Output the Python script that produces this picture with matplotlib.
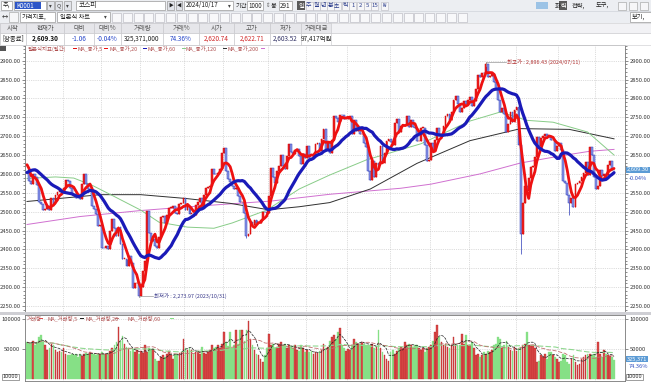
import numpy as np
import pandas as pd
import matplotlib
matplotlib.use("Agg")
import matplotlib.pyplot as plt
from matplotlib.patches import Rectangle
from matplotlib.ticker import MultipleLocator, FuncFormatter

plt.rcParams['font.family'] = ['Noto Sans CJK KR', 'DejaVu Sans']

W, H = 651, 386

# closes before the visible window (Jul 2023 .. 2023/08/03), only used for the MAs
prior_close = [2564, 2593, 2579, 2556, 2526, 2519, 2574, 2583, 2629, 2619,
               2619, 2608, 2600, 2609, 2628, 2636, 2592, 2603, 2608, 2632,
               2667, 2616, 2605]

# daily closes, 2023/08/04 .. 2024/10/17
close = [
    # 2023-08
    2602, 2580, 2573, 2601, 2591, 2570, 2525, 2519, 2504, 2508, 2516, 2505, 2537, 2519, 2543, 2552, 2561, 2556,
    # 2023-09
    2563, 2584, 2582, 2563, 2548, 2547, 2537, 2535, 2534, 2573, 2601, 2574, 2559, 2559, 2514, 2508, 2495, 2462, 2465,
    # 2023-10
    2405, 2403, 2408, 2402, 2450, 2480, 2456, 2436, 2460, 2415, 2375, 2375, 2357, 2383, 2363, 2299, 2310, 2310, 2277,
    # 2023-11
    2301, 2343, 2368, 2502, 2443, 2421, 2427, 2409, 2403, 2433, 2487, 2488, 2469, 2491, 2511, 2511, 2514, 2496, 2495, 2521, 2522, 2535,
    # 2023-12
    2505, 2514, 2495, 2495, 2492, 2517, 2525, 2535, 2510, 2544, 2563, 2566, 2568, 2614, 2600, 2599, 2602, 2613, 2655,
    # 2024-01
    2669, 2607, 2587, 2578, 2567, 2561, 2562, 2541, 2525, 2525, 2497, 2435, 2440, 2473, 2464, 2478, 2469, 2470, 2478, 2500, 2498, 2497,
    # 2024-02
    2542, 2615, 2591, 2576, 2609, 2620, 2649, 2620, 2613, 2648, 2680, 2657, 2653, 2664, 2667, 2647, 2625, 2653, 2642,
    # 2024-03
    2674, 2642, 2641, 2647, 2680, 2681, 2660, 2693, 2718, 2666, 2685, 2656, 2690, 2754, 2748, 2738, 2757, 2755, 2745, 2746,
    # 2024-04
    2747, 2753, 2706, 2742, 2714, 2717, 2705, 2706, 2681, 2670, 2609, 2584, 2634, 2591, 2629, 2623, 2675, 2628, 2656, 2687, 2692,
    # 2024-05
    2684, 2676, 2734, 2745, 2712, 2727, 2727, 2730, 2753, 2724, 2742, 2724, 2721, 2687, 2687, 2722, 2722, 2677, 2635, 2636,
    # 2024-06
    2682, 2662, 2689, 2722, 2701, 2705, 2728, 2754, 2758, 2744, 2763, 2797, 2807, 2784, 2765, 2774, 2792, 2784, 2797,
    # 2024-07
    2804, 2780, 2794, 2824, 2862, 2857, 2868, 2867, 2891, 2857, 2860, 2866, 2843, 2824, 2795, 2763, 2775, 2758, 2710, 2731, 2765, 2738, 2770,
    # 2024-08
    2777, 2676, 2441, 2522, 2568, 2556, 2588, 2618, 2621, 2644, 2697, 2674, 2696, 2701, 2707, 2701, 2698, 2689, 2689, 2662, 2674,
    # 2024-09
    2681, 2664, 2580, 2576, 2544, 2523, 2535, 2513, 2572, 2575, 2580, 2593, 2602, 2631, 2596, 2671, 2649, 2593,
    # 2024-10
    2561, 2569, 2610, 2594, 2599, 2597, 2623, 2633, 2610, 2609.30,
]
month_bars = [18, 19, 19, 22, 19, 22, 19, 20, 21, 20, 19, 23, 21, 18, 10]

# intraday extremes that stick out of the bodies
wick_idx = [55, 59, 108, 226, 243, 267]
wick_price = [2273.97, 2503, 2429, 2896.43, 2386.96, 2492]

# long moving averages (bar index, value)
ma60_idx = [0, 14, 23, 32, 43, 56, 65, 79, 92, 101, 118, 134, 149, 167, 194, 218, 233, 246, 259, 276, 289]
ma60_val = [2588, 2592, 2589, 2570, 2540, 2504, 2472, 2459, 2456, 2470, 2504, 2560, 2597, 2637, 2680, 2740, 2764, 2742, 2737, 2711, 2650]
ma120_idx = [0, 16, 36, 56, 78, 100, 119, 134, 149, 169, 192, 218, 243, 267, 289]
ma120_val = [2527, 2535, 2545, 2545, 2535, 2522, 2505, 2513, 2524, 2560, 2628, 2688, 2720, 2718, 2693]
ma200_idx = [0, 26, 56, 85, 120, 149, 184, 199, 223, 243, 263, 277, 289]
ma200_val = [2466, 2487, 2503, 2515, 2528, 2546, 2562, 2573, 2600, 2629, 2648, 2660, 2665]

# volume (axis units / 1000)
volume_k = [
    61, 59, 60, 64, 56, 61, 70, 73, 61, 56, 48, 51, 59, 56, 48, 45, 46, 45, 51, 42,
    40, 40, 42, 40, 41, 37, 42, 38, 41, 44, 42, 45, 42, 42, 40, 42, 41, 45, 42, 41,
    44, 46, 51, 56, 62, 86, 64, 72, 59, 53, 51, 46, 50, 45, 48, 41, 46, 44, 56, 45,
    51, 48, 50, 34, 31, 30, 37, 40, 37, 42, 46, 40, 34, 42, 41, 44,
    45, 67, 51, 48, 51, 48, 42, 45, 46, 42, 53, 44, 42, 45, 48, 56, 51, 53, 56, 51,
    59, 78, 62, 55, 78, 51, 56, 81, 59, 81, 81, 64, 81, 97, 67, 56, 48, 42, 40, 34,
    29, 40, 51, 75, 56, 59, 51, 53, 59, 62, 56, 59, 51, 56, 53, 51, 56, 48, 46, 56,
    51, 45, 48, 45, 46, 42, 45, 44, 46, 48, 59, 51, 53, 64, 70, 73, 66,
    78, 84, 56, 51, 46, 50, 48, 56, 67, 62, 59, 59, 62, 59, 56, 56, 56, 59, 51, 53,
    81, 51, 45, 40, 34, 31, 45, 48, 42, 46, 51, 53, 51, 62, 56, 59, 56, 53, 56, 57,
    51, 48, 51, 45, 51, 53, 56, 64, 78, 89, 70, 62, 56, 59, 53, 51, 56, 70, 59, 56,
    56, 75, 59, 73, 56, 56, 62, 51, 40, 42, 37, 40, 45, 42, 46, 45,
    48, 56, 59, 70, 67, 51, 56, 64, 53, 48, 46, 53, 46, 51, 53, 56, 59, 78, 56, 57,
    56, 51, 29, 31, 40, 37, 42, 34, 45, 45, 40, 37, 34, 29, 31, 42, 40, 29, 26, 34,
    40, 29, 23, 26, 34, 37, 40, 42, 41, 40, 42, 37, 62, 42, 37, 48, 42, 40, 38, 36,
    32.537,
]

header_labels = ['시작', '현재가', '대비', '대비%', '거래량', '거래%', '시가', '고가', '저가', '거래대금']
header_values = ['[장종료]', '2,609.30', '-1.06', '-0.04%', '325,371,000', '74.36%',
                 '2,620.74', '2,622.71', '2,603.52', '97,417억원']
header_colors = ['#222222', '#111111', '#2343c8', '#2343c8', '#222222', '#2343c8',
                 '#d02828', '#d02828', '#333366', '#222222']

# ---------------------------------------------------------------- data prep
n = len(close)
c = np.array(close, dtype=float)
o = np.array([prior_close[-1]] + close[:-1], dtype=float)
hi = np.maximum(o, c)
lo = np.minimum(o, c)
for i, p in zip(wick_idx, wick_price):
    hi[i] = max(hi[i], p)
    lo[i] = min(lo[i], p)
allc = pd.Series(prior_close + close, dtype=float)
ma5 = allc.rolling(5).mean().values[len(prior_close):]
ma20 = allc.rolling(20).mean().values[len(prior_close):]
vol = pd.Series(volume_k, dtype=float)
vma5 = vol.rolling(5, min_periods=1).mean()
vma20 = vol.rolling(20, min_periods=1).mean()
vma60 = vol.rolling(60, min_periods=1).mean()
x = np.arange(n)
up = c >= o
month_starts = np.cumsum(month_bars)[:-1]

fig = plt.figure(figsize=(W / 100, H / 100), dpi=100)
fig.patch.set_facecolor('white')


def box(x0, y0, x1, y1, fc, ec='none', lw=0.5, z=0):
    fig.patches.append(Rectangle((x0 / W, 1 - y1 / H), (x1 - x0) / W, (y1 - y0) / H,
                                 transform=fig.transFigure, fc=fc, ec=ec, lw=lw, zorder=z))


def txt(px, py, s, size=4.8, color='#222222', ha='left', **kw):
    fig.text(px / W, 1 - py / H, s, fontsize=size, color=color, ha=ha, va='center', **kw)


# ---------------------------------------------------------------- toolbars
box(0, 0, 651, 23, '#eceef2')
fig.lines.append(plt.Line2D([0, 1], [1 - 11 / H, 1 - 11 / H], transform=fig.transFigure, color='#d0d3da', lw=0.5))
box(1, 1, 12, 10, 'white', '#9a9a9a')
txt(2.5, 5.5, '주,', 4.5)
box(14, 1, 46, 10, 'white', '#9a9a9a')
box(15, 2, 41, 9, '#2d56c8')
txt(16, 5.5, 'K0001', 4.5, 'white')
for bx in (47, 55, 64):
    box(bx, 1, bx + 7, 10, '#e2e4ea', '#9a9a9a')
txt(50.5, 5.5, '▾', 4, '#444', ha='center')
txt(58.5, 5.5, 'Q', 4, '#444', ha='center')
txt(67.5, 5.5, '▾', 4, '#444', ha='center')
box(76, 1, 165, 10, 'white', '#9a9a9a')
txt(79, 5.5, '코스피', 4.8)
box(167, 1, 174, 10, '#e2e4ea', '#9a9a9a')
txt(170.5, 5.5, '▶', 3.5, '#222', ha='center')
box(176, 1, 182, 10, '#e2e4ea', '#9a9a9a')
txt(179, 5.5, '◀', 3.5, '#222', ha='center')
box(184, 1, 233, 10, 'white', '#9a9a9a')
txt(186, 5.5, '2024/10/17', 4.5)
txt(229, 5.5, '▾', 4, '#444', ha='center')
txt(236, 5.5, '기간', 4.5)
box(247, 1, 263, 10, 'white', '#9a9a9a')
txt(248.5, 5.5, '1000', 4.5)
txt(266, 5.5, '⇕', 4, '#666')
txt(271, 5.5, '봉', 4.5)
box(279, 1, 292, 10, 'white', '#9a9a9a')
txt(280, 5.5, '291', 4.5)
btn_labels = ['일', '주', '월', '년', '분', '초', '틱', '1', '2', '5', '15', '₩']
btn_x = [301, 309, 316, 323, 330, 337, 345, 353, 360, 367, 375, 384]
for lab, bx in zip(btn_labels, btn_x):
    if lab == '일':
        box(bx - 4, 1, bx + 4, 10, '#5a5a5a')
        txt(bx, 5.5, lab, 4.5, 'white', ha='center')
    else:
        box(bx - 3.5, 1.5, bx + 3.5, 9.5, '#f6f6f8', '#b8b8c0', 0.4)
        txt(bx, 5.5, lab, 4.3, '#2c3e8c', ha='center')
box(536, 2, 548, 9, '#9cc3e6')
txt(555, 5.5, '화', 4.5)
box(559, 1, 567, 10, '#5a5a5a')
txt(563, 5.5, '력', 4.5, 'white', ha='center')
txt(572, 5.5, '전략,', 4.5)
txt(596, 5.5, '도구,', 4.5)
for bx in (618, 629, 640):
    box(bx, 1.5, bx + 8, 9.5, '#f6f6f8', '#9a9a9a', 0.4)

txt(1.5, 17, '↔', 4.5, '#333')
box(9, 12, 18, 22, '#f6f6f8', '#9a9a9a', 0.4)
box(20, 12, 55, 22, 'white', '#9a9a9a')
txt(22, 17, '가격지표,', 4.5)
box(57, 12, 110, 22, 'white', '#9a9a9a')
txt(60, 17, '일본식 차트', 4.5)
txt(105, 17, '▾', 4, '#444', ha='center')
for bx in np.arange(112, 468, 10.8):
    box(bx, 12.5, bx + 9, 21.5, '#f8f8fa', '#b4b4bc', 0.4)
box(630, 12, 651, 22, 'white', '#9a9a9a')
txt(632, 17, '보기,', 4.5)

# ---------------------------------------------------------------- quote table
cols = [0, 26, 64, 94, 121, 163, 199, 234, 270, 301, 331]
box(0, 23, 651, 33, '#f2f2f5', '#c8c8cc', 0.4)
box(0, 33, 651, 44.5, 'white', '#c8c8cc', 0.4)
for j in range(len(header_labels)):
    box(cols[j], 23, cols[j + 1], 33, '#e6e6ea', '#c4c4c8', 0.4)
    box(cols[j], 33, cols[j + 1], 44.5, 'white', '#c4c4c8', 0.4)
    cx = (cols[j] + cols[j + 1]) / 2
    txt(cx, 28.3, header_labels[j], 4.6, '#555555', ha='center')
    txt(cx, 38.8, header_values[j], 4.6, header_colors[j], ha='center',
        fontweight='bold' if j == 1 else 'normal')

# ---------------------------------------------------------------- price panel
ax = fig.add_axes([25 / W, 1 - 312 / H, 600 / W, (312 - 45) / H])
ax.set_xlim(-1, 294.4)
ax.set_ylim(2234.1, 2941.6)

ax.plot(ma200_idx, ma200_val, color='#d070d0', lw=0.7, zorder=1)
ax.plot(ma120_idx, ma120_val, color='#303030', lw=0.7, zorder=1)
ax.plot(ma60_idx, ma60_val, color='#88cc88', lw=0.7, zorder=1)

ax.vlines(x, lo, hi, colors=np.where(up, '#e01010', '#2a3ab8'), lw=0.5, zorder=2)
ax.bar(x, np.maximum(np.abs(c - o), 1.0), bottom=np.minimum(o, c), width=0.9,
       color=np.where(up, '#f02020', '#8e98e8'), edgecolor=np.where(up, '#d00000', '#2a3ab8'),
       linewidth=0.35, zorder=2)
ax.plot(x, ma5, color='#ee1111', lw=2.0, zorder=4, solid_capstyle='round')
ax.plot(x, ma20, color='#1a1ab8', lw=2.3, zorder=5, solid_capstyle='round')

# max / min markers
ax.plot([226, 226, 236], [2886, 2896.43, 2896.43], color='#999999', lw=0.5, zorder=6)
ax.text(236.5, 2896.43, '최고가 : 2,896.43 (2024/07/11)', fontsize=3.9, color='#b03030', va='center', zorder=6)
ax.plot([55, 55, 62], [2273.97, 2276.5, 2276.5], color='#999999', lw=0.5, zorder=6)
ax.text(62.5, 2276.5, '최저가 : 2,273.97 (2023/10/31)', fontsize=3.9, color='#3a3a8a', va='center', zorder=6)

ax.set_xticks(month_starts - 0.5)
ax.set_xticklabels([])
price_ticks = np.arange(2250, 2901, 50)
ax.set_yticks(price_ticks)
ax.yaxis.set_minor_locator(MultipleLocator(10))
ax.yaxis.set_major_formatter(FuncFormatter(lambda v, _: f'{v:.2f}'))
ax.tick_params(axis='x', length=0)
ax.tick_params(axis='y', which='both', left=True, right=True, labelleft=True, labelright=True,
               labelsize=4.2, pad=1, width=0.4, colors='#333333')
ax.tick_params(axis='y', which='major', length=2.2)
ax.tick_params(axis='y', which='minor', length=1.1)
# the current-price marker covers the right-hand 2600 label
for tv, tk in zip(price_ticks, ax.yaxis.get_major_ticks()):
    if tv == 2600:
        tk.label2.set_visible(False)
ax.grid(True, which='major', ls=':', color='#bdbdbd', lw=0.5)
ax.set_axisbelow(True)
for s in ax.spines.values():
    s.set_color('#777777')
    s.set_linewidth(0.6)

# legend line
leg_items = [(28, '일본식지표(일간)', 73, '#e01010'), (77, 'MA_종가,5', 104, '#ee1111'),
             (110, 'MA_종가,20', 143, '#1a1ab8'), (148, 'MA_종가,60', 182, '#88cc88'),
             (186, 'MA_종가,120', 223, '#303030'), (227, 'MA_종가,200', 261, '#d070d0')]
for tx, lab, mx, mc in leg_items:
    txt(tx, 48.5, lab, 3.9, '#b05050')
    box(mx, 47.8, mx + 4, 49.4, mc, z=5)
box(0, 46, 6, 51, '#555555', z=5)

fig.text(627 / W, 1 - 170 / H, '2,609.30', fontsize=4.1, color='white', va='center',
         bbox=dict(boxstyle='square,pad=0.12', fc='#5b9bd5', ec='none'))
txt(629, 178, '-0.04%', 4.1, '#3050c0')

# panel separator
box(0, 312.3, 651, 314.8, '#cfcfd4')

# ---------------------------------------------------------------- volume panel
axv = fig.add_axes([25 / W, 1 - 381 / H, 600 / W, (381 - 315) / H])
axv.set_xlim(-1, 294.4)
axv.set_ylim(-2.8, 106.1)
axv.bar(x, volume_k, width=0.85, color=np.where(up, '#dc4a4a', '#86e086'),
        edgecolor=np.where(up, '#b02020', '#86e086'), linewidth=0.25, zorder=2)
axv.plot(x, vma60, color='#90d890', lw=0.8, ls=(0, (5, 2)), zorder=3)
axv.plot(x, vma20, color='#c07070', lw=0.6, ls=(0, (5, 2)), zorder=3)
axv.plot(x, vma5, color='#202020', lw=0.5, ls=(0, (4, 1.5)), zorder=4)
axv.set_xticks(month_starts - 0.5)
axv.set_xticklabels([])
axv.set_yticks([50, 100])
axv.yaxis.set_major_formatter(FuncFormatter(lambda v, _: f'{v * 1000:.0f}'))
axv.tick_params(axis='x', length=0)
axv.tick_params(axis='y', left=True, right=True, labelleft=True, labelright=True,
                labelsize=4.2, pad=1, width=0.4, length=2.2, colors='#333333')
axv.grid(True, ls=':', color='#bdbdbd', lw=0.5)
axv.set_axisbelow(True)
for s in axv.spines.values():
    s.set_color('#777777')
    s.set_linewidth(0.6)

vleg = [(27, '거래량', 39, '#dc4a4a'), (47, 'MA_거래량,5', 80, '#202020'),
        (85, 'MA_거래량,20', 115, '#c07070'), (127, 'MA_거래량,60', 170, '#86e086')]
for tx, lab, mx, mc in vleg:
    txt(tx, 318.5, lab, 3.9, '#b05050')
    box(mx, 317.8, mx + 4, 319.4, mc, z=5)

fig.text(627 / W, 1 - 359 / H, '325,371', fontsize=4.1, color='white', va='center',
         bbox=dict(boxstyle='square,pad=0.12', fc='#5b9bd5', ec='none'))
txt(629, 366, '74.36%', 4.1, '#3050c0')
for bx in (3, 627):
    fig.text(bx / W, 1 - 377 / H, '10000', fontsize=4.1, color='#333333', va='center',
             bbox=dict(boxstyle='square,pad=0.1', fc='white', ec='#555555', lw=0.4))

fig.savefig('out.png', dpi=100)
